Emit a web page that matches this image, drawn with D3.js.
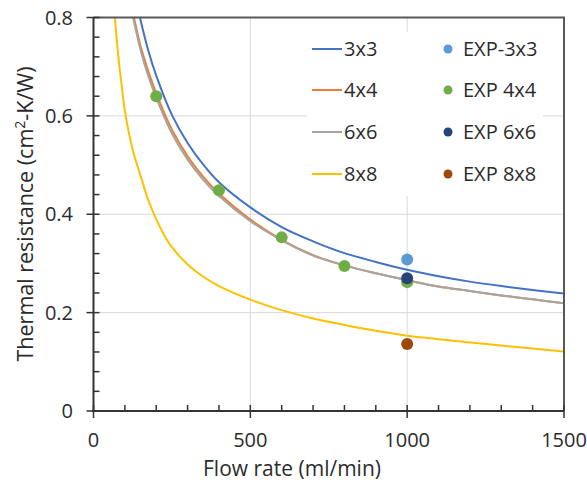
<!DOCTYPE html>
<html lang="en">
<head>
<meta charset="UTF-8">
<title>thermal resistance</title>
<script src="https://d3js.org/d3.v7.min.js"></script>
<style>
    body { margin: 0; background: #fff; }
    text { font-family: "Open Sans", sans-serif; fill: #2b2b2b; }
</style>
</head>
<body>

<svg width="587" height="483"></svg>

<script>

    // model curves: flow rate (ml/min) -> thermal resistance (cm2-K/W)
    var flow3x3 = [148, 175, 200, 250, 300, 350, 400, 500, 600, 700, 800, 900, 1000, 1100, 1200, 1300, 1400, 1500];
    var r3x3    = [0.80, 0.732, 0.682, 0.602, 0.545, 0.501, 0.465, 0.414, 0.374, 0.345, 0.321, 0.303, 0.287, 0.274, 0.263, 0.254, 0.246, 0.239];

    var flow4x4 = [129, 150, 175, 200, 250, 300, 350, 400, 500, 600, 700, 800, 900, 1000, 1100, 1200, 1300, 1400, 1500];
    var r4x4    = [0.80, 0.742, 0.690, 0.646, 0.572, 0.518, 0.476, 0.442, 0.389, 0.348, 0.317, 0.296, 0.28, 0.266, 0.253, 0.244, 0.235, 0.227, 0.219];

    var flow6x6 = [126, 150, 175, 200, 250, 300, 350, 400, 500, 600, 700, 800, 900, 1000, 1100, 1200, 1300, 1400, 1500];
    var r6x6    = [0.80, 0.734, 0.680, 0.637, 0.564, 0.511, 0.470, 0.437, 0.386, 0.347, 0.316, 0.296, 0.28, 0.266, 0.253, 0.244, 0.235, 0.227, 0.219];

    var flow8x8 = [68, 80, 90, 100, 125, 150, 175, 200, 225, 250, 300, 350, 400, 500, 600, 700, 800, 900, 1000, 1100, 1200, 1300, 1400, 1500];
    var r8x8    = [0.80, 0.716, 0.661, 0.61, 0.531, 0.478, 0.428, 0.39, 0.358, 0.333, 0.298, 0.273, 0.254, 0.2265, 0.205, 0.188, 0.175, 0.163, 0.153, 0.146, 0.1395, 0.133, 0.127, 0.121];

    // experiments
    var expFlow3x3 = [1000];
    var exp3x3     = [0.308];
    var expFlow4x4 = [200, 400, 600, 800, 1000];
    var exp4x4     = [0.64, 0.449, 0.353, 0.295, 0.262];
    var expFlow6x6 = [1000];
    var exp6x6     = [0.270];
    var expFlow8x8 = [1000];
    var exp8x8     = [0.136];

    var xTicks = [0, 500, 1000, 1500];
    var yTicks = [0, 0.2, 0.4, 0.6, 0.8];

    var lineNames = ['3x3', '4x4', '6x6', '8x8'];
    var lineColors = ['#4472C4', '#ED7D31', '#A5A5A5', '#FFC000'];
    var expNames = ['EXP-3x3', 'EXP 4x4', 'EXP 6x6', 'EXP 8x8'];
    var expColors = ['#5B9BD5', '#70AD47', '#264478', '#9E480E'];

    var lines = [
        d3.zip(flow3x3, r3x3),
        d3.zip(flow4x4, r4x4),
        d3.zip(flow6x6, r6x6),
        d3.zip(flow8x8, r8x8)
    ];
    var exps = [
        d3.zip(expFlow3x3, exp3x3),
        d3.zip(expFlow4x4, exp4x4),
        d3.zip(expFlow6x6, exp6x6),
        d3.zip(expFlow8x8, exp8x8)
    ];

    var svg = d3.select('svg');
    var pLeft = 93.5, pRight = 564, pTop = 17.5, pBottom = 411;

    var x = d3.scaleLinear().domain([0, 1500]).range([pLeft, pRight]);
    var y = d3.scaleLinear().domain([0, 0.8]).range([pBottom, pTop]);

    // grid
    var grid = svg.append('g').attr('stroke', '#d9d9d9').attr('stroke-width', 1);
    grid.selectAll('.gx').data(xTicks.slice(1, -1)).enter().append('line')
        .attr('x1', function (d) { return x(d); }).attr('x2', function (d) { return x(d); })
        .attr('y1', pTop).attr('y2', pBottom);
    grid.selectAll('.gy').data(yTicks.slice(1, -1)).enter().append('line')
        .attr('y1', function (d) { return y(d); }).attr('y2', function (d) { return y(d); })
        .attr('x1', pLeft).attr('x2', pRight);

    // legend box (covers grid)
    svg.append('rect').attr('x', 307).attr('y', 32).attr('width', 236).attr('height', 164).attr('fill', '#fff');

    // clip for curves
    svg.append('clipPath').attr('id', 'plot').append('rect')
        .attr('x', pLeft).attr('y', pTop).attr('width', pRight - pLeft).attr('height', pBottom - pTop);

    var line = d3.line()
        .x(function (d) { return x(d[0]); })
        .y(function (d) { return y(d[1]); })
        .curve(d3.curveCatmullRom.alpha(0.5));

    svg.append('g').attr('clip-path', 'url(#plot)')
        .selectAll('path').data(lines).enter().append('path')
        .attr('d', line)
        .attr('fill', 'none')
        .attr('stroke', function (d, i) { return lineColors[i]; })
        .attr('stroke-width', 2);

    // exp points
    exps.forEach(function (pts, i) {
        svg.append('g').selectAll('circle').data(pts).enter().append('circle')
            .attr('cx', function (d) { return x(d[0]); })
            .attr('cy', function (d) { return y(d[1]); })
            .attr('r', 6)
            .attr('fill', expColors[i]);
    });

    // frame top/right
    svg.append('path')
        .attr('d', 'M' + pLeft + ',' + pTop + 'H' + pRight + 'V' + pBottom)
        .attr('fill', 'none').attr('stroke', '#595959').attr('stroke-width', 2);

    // axes
    var axisColor = '#333';
    var yAxis = svg.append('g');
    yAxis.append('line').attr('x1', pLeft).attr('x2', pLeft).attr('y1', pTop).attr('y2', pBottom + 1)
        .attr('stroke', axisColor).attr('stroke-width', 2);
    yAxis.selectAll('.ym').data(d3.range(0, 0.801, 0.04)).enter().append('line')
        .attr('x1', function (d, i) { return i % 5 === 0 ? pLeft - 7 : pLeft; })
        .attr('x2', pLeft + 6)
        .attr('y1', function (d) { return y(d); }).attr('y2', function (d) { return y(d); })
        .attr('stroke', axisColor).attr('stroke-width', 1.5);
    yAxis.selectAll('text').data(yTicks).enter().append('text')
        .attr('x', 73).attr('y', function (d) { return y(d) + 7; })
        .attr('text-anchor', 'end').attr('font-size', 20)
        .text(function (d) { return d === 0 ? '0' : d3.format('.1f')(d); });

    var xAxis = svg.append('g');
    xAxis.append('line').attr('x1', pLeft - 1).attr('x2', pRight).attr('y1', pBottom).attr('y2', pBottom)
        .attr('stroke', axisColor).attr('stroke-width', 2);
    xAxis.selectAll('.xm').data(d3.range(0, 1501, 100)).enter().append('line')
        .attr('x1', function (d) { return x(d); }).attr('x2', function (d) { return x(d); })
        .attr('y1', pBottom - 6)
        .attr('y2', function (d, i) { return i % 5 === 0 ? pBottom + 7 : pBottom; })
        .attr('stroke', axisColor).attr('stroke-width', 1.5);
    xAxis.selectAll('text').data(xTicks).enter().append('text')
        .attr('x', function (d) { return x(d); }).attr('y', 447)
        .attr('text-anchor', 'middle').attr('font-size', 20)
        .text(function (d) { return d; });

    // titles
    svg.append('text').attr('x', 292).attr('y', 476)
        .attr('text-anchor', 'middle').attr('font-size', 21)
        .text('Flow rate (ml/min)');
    var yt = svg.append('text')
        .attr('transform', 'translate(33,214) rotate(-90)')
        .attr('text-anchor', 'middle').attr('font-size', 21.5);
    yt.append('tspan').text('Thermal resistance (cm');
    yt.append('tspan').attr('font-size', 14).attr('dy', -8).text('2');
    yt.append('tspan').attr('dy', 8).text('-K/W)');

    // legend
    var rows = [49, 90, 132, 174];
    var lg = svg.append('g');
    lineNames.forEach(function (n, i) {
        lg.append('line').attr('x1', 312).attr('x2', 342).attr('y1', rows[i]).attr('y2', rows[i])
            .attr('stroke', lineColors[i]).attr('stroke-width', 2);
        lg.append('text').attr('x', 344).attr('y', rows[i] + 7).attr('font-size', 20).text(n);
    });
    expNames.forEach(function (n, i) {
        lg.append('circle').attr('cx', 448).attr('cy', rows[i]).attr('r', 4.5).attr('fill', expColors[i]);
        lg.append('text').attr('x', 463).attr('y', rows[i] + 7).attr('font-size', 20).text(n);
    });

</script>

</body>
</html>
